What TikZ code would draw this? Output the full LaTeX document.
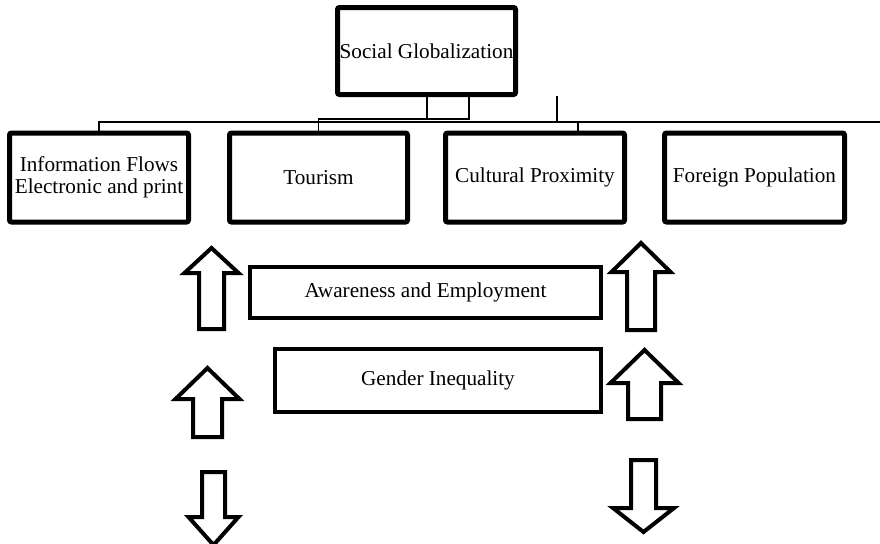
\documentclass[tikz,border=0pt]{standalone}
\usepackage{fontspec}
\setmainfont{Liberation Serif}
\usepackage{tikz}
\usetikzlibrary{positioning}
\begin{document}
\begin{tikzpicture}[line join=miter,x=0.75pt,y=-0.75pt,
  topbox/.style={draw,line width=3.75pt,rounded corners=1.5pt,inner sep=0pt,align=center,font=\fontsize{15.9pt}{16.5pt}\selectfont},
  midbox/.style={draw,line width=3pt,inner sep=0pt,font=\fontsize{15.9pt}{16.5pt}\selectfont},
  conn/.style={line width=1.1pt},
  arrowbox/.style={line width=3pt}]
\useasboundingbox (0,0) rectangle (880,543);
% boxes
\node[topbox,minimum width=178*0.75pt,minimum height=87*0.75pt] (social) at (426.5,51) {Social Globalization};
\node[topbox,minimum width=179*0.75pt,minimum height=89*0.75pt] (info) at (99,177.5) {Information Flows\\Electronic and print};
\node[topbox,minimum width=178*0.75pt,minimum height=89*0.75pt] (tourism) at (318.5,177.5) {Tourism};
\node[topbox,minimum width=179*0.75pt,minimum height=89*0.75pt] (cultural) at (535,177.5) {Cultural Proximity};
\node[topbox,minimum width=180*0.75pt,minimum height=89*0.75pt] (foreign) at (754.5,177.5) {Foreign Population};
\node[midbox,minimum width=351*0.75pt,minimum height=51*0.75pt] (aware) at (425.5,292.5) {Awareness and Employment};
\node[midbox,minimum width=326*0.75pt,minimum height=63*0.75pt] (gender) at (438,380.5) {Gender Inequality};
% connectors
\coordinate (lineend) at (880,122);
\coordinate (stub) at (557,96);
\draw[conn] (info.north) |- (lineend);
\draw[conn] (tourism.north) |- (469,119) -- (469,0 |- social.south);
\draw[conn] (427,0 |- social.south) -- (427,119);
\draw[conn] (578,0 |- cultural.north) -- (578,122);
\draw[conn] (stub) -- (557,122);
% block arrows
\foreach \x/\tip/\head/\tail/\hw/\sw in {211.5/248/273/329/27/12.5,641/243/272/330/29.5/14,
  207.5/368/399/437/32/14.5,644.5/350/383/419/34/16.5,213.5/545/517/472/25/11.5,643.5/532/508/460/30.5/12.5}
\draw[arrowbox] (\x,\tip) -- (\x+\hw,\head) -- (\x+\sw,\head) -- (\x+\sw,\tail) -- (\x-\sw,\tail) -- (\x-\sw,\head) -- (\x-\hw,\head) -- cycle;
\end{tikzpicture}
\end{document}
